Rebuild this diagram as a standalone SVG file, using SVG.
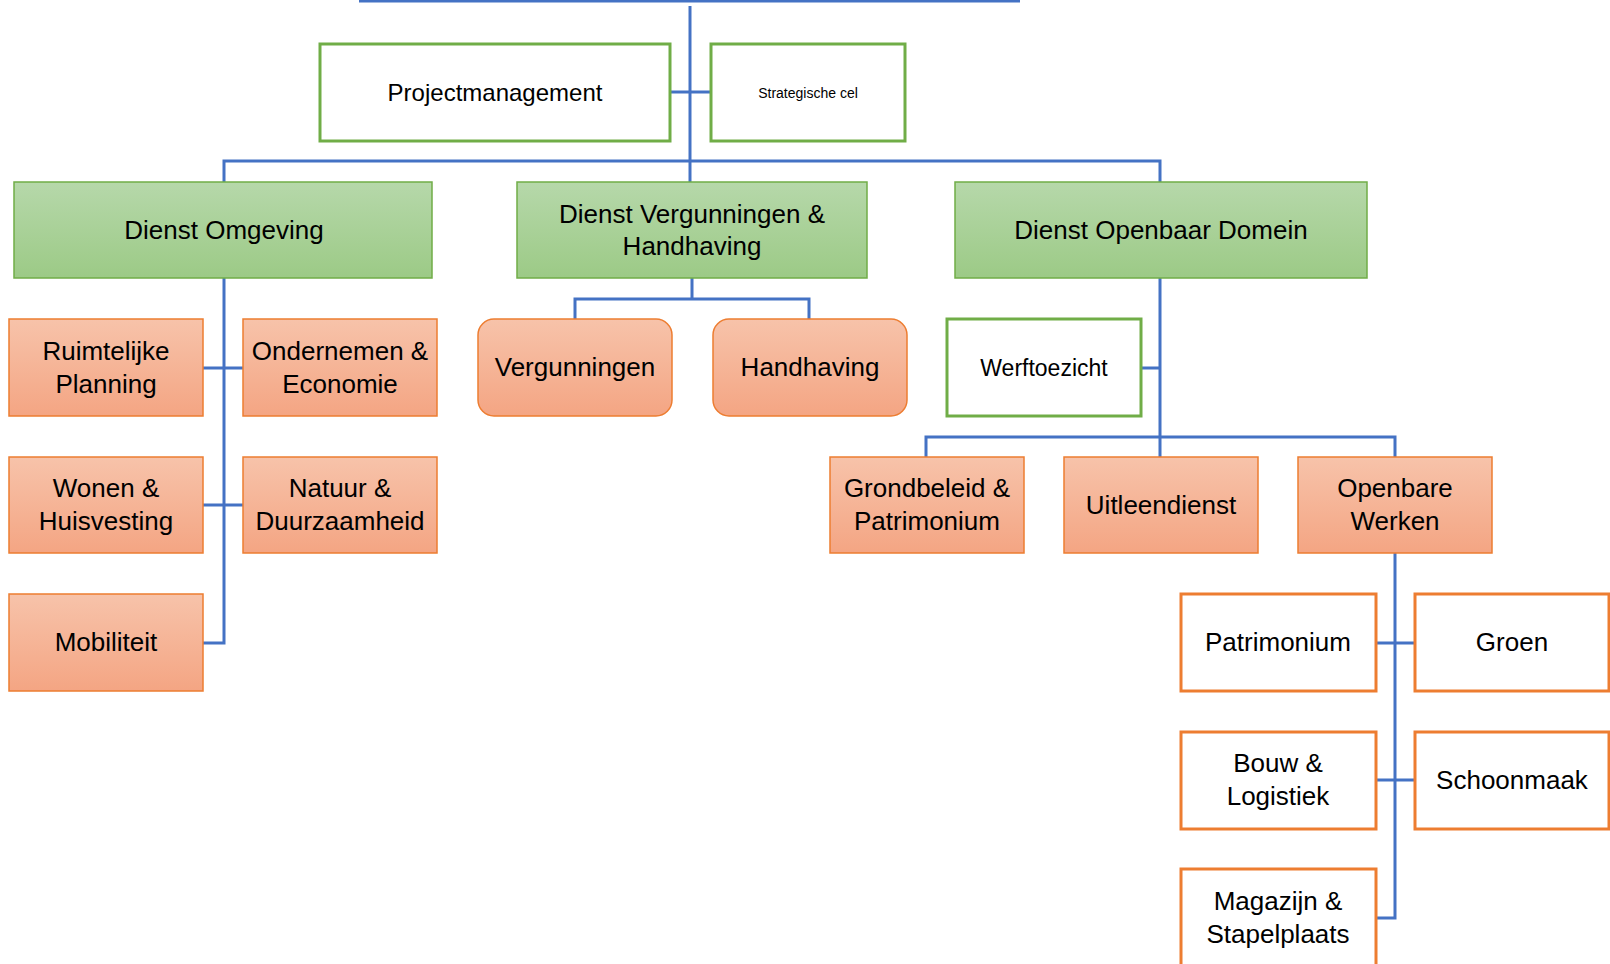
<svg xmlns="http://www.w3.org/2000/svg" width="1610" height="964" viewBox="0 0 1610 964">
<defs>
<linearGradient id="gGreen" x1="0" y1="0" x2="0" y2="1">
<stop offset="0" stop-color="#b6d8aa"/>
<stop offset="1" stop-color="#9cca86"/>
</linearGradient>
<linearGradient id="gOrange" x1="0" y1="0" x2="0" y2="1">
<stop offset="0" stop-color="#f7c3aa"/>
<stop offset="1" stop-color="#f4a583"/>
</linearGradient>
<style>
text{font-family:"Liberation Sans",Arial,sans-serif;fill:#000;text-anchor:middle;dominant-baseline:central;font-size:26px}
text.s{font-size:14px}
text.m{font-size:23px}
text.p{font-size:24px}
.gw{fill:#fff;stroke:#70ad47;stroke-width:3}
.gf{fill:url(#gGreen);stroke:#70ad47;stroke-width:1.5}
.of{fill:url(#gOrange);stroke:#ed7d31;stroke-width:1.5}
.ow{fill:#fff;stroke:#ed7d31;stroke-width:3}
.c{fill:none;stroke:#4472c4;stroke-width:3}
</style>
</defs>
<g id="connectors">
<line class="c" x1="359" y1="1" x2="1020" y2="1" stroke-width="4"/>
<path class="c" d="M690 6 V182"/>
<path class="c" d="M670 92 H711"/>
<path class="c" d="M224 182 V161 H1160 V182"/>
<path class="c" d="M224 278 V643 H203"/>
<path class="c" d="M203 368 H243 M203 505 H243"/>
<path class="c" d="M692 278 V299 M575 319 V299 H809 V319"/>
<path class="c" d="M1160 278 V457 M1141 368 H1160"/>
<path class="c" d="M926 457 V437 H1395 V457"/>
<path class="c" d="M1395 553 V918 H1376"/>
<path class="c" d="M1376 643 H1415 M1376 780 H1415"/>
</g>
<g id="projectmanagement"><rect class="gw" x="320" y="44" width="350" height="97"/><text class="p" x="495" y="92">Projectmanagement</text></g>
<g id="strategische-cel"><rect class="gw" x="711" y="44" width="194" height="97"/><text class="s" x="808" y="93">Strategische cel</text></g>
<g id="dienst-omgeving"><rect class="gf" x="14" y="182" width="418" height="96"/><text x="224" y="230">Dienst Omgeving</text></g>
<g id="dienst-vergunningen"><rect class="gf" x="517" y="182" width="350" height="96"/><text x="692" y="214">Dienst Vergunningen &amp;</text><text x="692" y="246">Handhaving</text></g>
<g id="dienst-openbaar-domein"><rect class="gf" x="955" y="182" width="412" height="96"/><text x="1161" y="230">Dienst Openbaar Domein</text></g>
<g id="ruimtelijke-planning"><rect class="of" x="9" y="319" width="194" height="97"/><text x="106" y="351">Ruimtelijke</text><text x="106" y="384">Planning</text></g>
<g id="ondernemen-economie"><rect class="of" x="243" y="319" width="194" height="97"/><text x="340" y="351">Ondernemen &amp;</text><text x="340" y="384">Economie</text></g>
<g id="wonen-huisvesting"><rect class="of" x="9" y="457" width="194" height="96"/><text x="106" y="488">Wonen &amp;</text><text x="106" y="521">Huisvesting</text></g>
<g id="natuur-duurzaamheid"><rect class="of" x="243" y="457" width="194" height="96"/><text x="340" y="488">Natuur &amp;</text><text x="340" y="521">Duurzaamheid</text></g>
<g id="mobiliteit"><rect class="of" x="9" y="594" width="194" height="97"/><text x="106" y="642">Mobiliteit</text></g>
<g id="vergunningen"><rect class="of" x="478" y="319" width="194" height="97" rx="16"/><text x="575" y="367">Vergunningen</text></g>
<g id="handhaving"><rect class="of" x="713" y="319" width="194" height="97" rx="16"/><text x="810" y="367">Handhaving</text></g>
<g id="werftoezicht"><rect class="gw" x="947" y="319" width="194" height="97"/><text class="m" x="1044" y="368">Werftoezicht</text></g>
<g id="grondbeleid-patrimonium"><rect class="of" x="830" y="457" width="194" height="96"/><text x="927" y="488">Grondbeleid &amp;</text><text x="927" y="521">Patrimonium</text></g>
<g id="uitleendienst"><rect class="of" x="1064" y="457" width="194" height="96"/><text x="1161" y="505">Uitleendienst</text></g>
<g id="openbare-werken"><rect class="of" x="1298" y="457" width="194" height="96"/><text x="1395" y="488">Openbare</text><text x="1395" y="521">Werken</text></g>
<g id="patrimonium"><rect class="ow" x="1181" y="594" width="195" height="97"/><text x="1278" y="642">Patrimonium</text></g>
<g id="groen"><rect class="ow" x="1415" y="594" width="194" height="97"/><text x="1512" y="642">Groen</text></g>
<g id="bouw-logistiek"><rect class="ow" x="1181" y="732" width="195" height="97"/><text x="1278" y="763">Bouw &amp;</text><text x="1278" y="796">Logistiek</text></g>
<g id="schoonmaak"><rect class="ow" x="1415" y="732" width="194" height="97"/><text x="1512" y="780">Schoonmaak</text></g>
<g id="magazijn-stapelplaats"><rect class="ow" x="1181" y="869" width="195" height="120"/><text x="1278" y="901">Magazijn &amp;</text><text x="1278" y="934">Stapelplaats</text></g>
</svg>
